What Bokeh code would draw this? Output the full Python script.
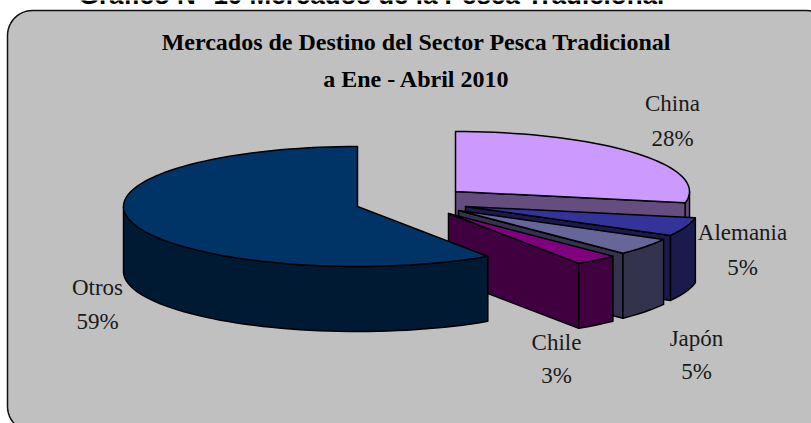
import math
from bokeh.plotting import figure
from bokeh.models import ColumnDataSource, Range1d
from bokeh.core.properties import value
from bokeh.embed import file_html
from bokeh.resources import INLINE

# ---- data
heading = "Gráfico N° 10 Mercados de la Pesca Tradicional"
title_lines = ["Mercados de Destino del Sector Pesca Tradicional", "a Ene - Abril 2010"]
categories = ["China", "Alemania", "Japón", "Chile", "Otros"]
shares = [28.0, 5.0, 4.6, 3.0, 59.4]

# ---- styling / layout (pixel space of the 811x423 page)
top_colors = ["#CC99FF", "#333399", "#666699", "#800080", "#003366"]
side_colors = ["#664D80", "#1A1A4D", "#33334D", "#400040", "#001A33"]
apex_x = [455, 465, 458, 448, 357]
apex_y = [191, 206, 210, 213, 206]
label_x = [672, 742, 696, 556, 97]
label_y = [103, 232, 338, 342, 287]
pct_y = [138, 267, 371, 375, 321]
RX, RY, DEPTH = 234, 60, 65
BG = "#C0C0C0"

W, H = 811, 423
p = figure(width=W, height=H, x_range=Range1d(0, W), y_range=Range1d(H, 0),
           output_backend="svg", toolbar_location=None, min_border=0,
           background_fill_color="white",
           border_fill_color="white", outline_line_color=None)
p.axis.visible = False
p.grid.visible = False

# panel with rounded corners
L, T, R, B, r = 7, 10, 831, 431, 25
px, py = [], []
for cx, cy, a0 in [(L + r, T + r, 180), (R - r, T + r, 270), (R - r, B - r, 0), (L + r, B - r, 90)]:
    for k in range(13):
        a = math.radians(a0 + 90 * k / 12)
        px.append(cx + r * math.cos(a))
        py.append(cy + r * math.sin(a))
p.patch(px, py, fill_color=BG, line_color="#111111", line_width=1.5)


def rim(ax, ay, t):
    return ax + RX * math.sin(t), ay - RY * math.cos(t)


def add(xs, ys, color):
    p.patch(xs, ys, fill_color=color, line_color="black", line_width=1.5, line_join="round")


start = 0.0
for i, s in enumerate(shares):
    end = start + s / sum(shares) * 2 * math.pi
    ax, ay = apex_x[i], apex_y[i]
    n = max(4, int(s * 1.5))
    ts = [start + (end - start) * k / n for k in range(n + 1)]
    edge = [rim(ax, ay, t) for t in ts]

    # visible cut face of the wedge (the clockwise end), only on the right half
    if end < math.pi:
        ex, ey = edge[-1]
        add([ax, ex, ex, ax], [ay, ey, ey + DEPTH, ay + DEPTH], side_colors[i])
    # outer wall where the rim faces the viewer
    front = [t for t in ts if math.pi / 2 <= t <= 3 * math.pi / 2]
    wall = ([math.pi / 2] if start < math.pi / 2 < end else []) + front
    if end > 3 * math.pi / 2:
        wall = wall + [3 * math.pi / 2]
    if len(wall) > 1:
        rp = [rim(ax, ay, t) for t in wall]
        add([q[0] for q in rp] + [q[0] for q in reversed(rp)],
            [q[1] for q in rp] + [q[1] + DEPTH for q in reversed(rp)], side_colors[i])
    # top face
    add([ax] + [q[0] for q in edge], [ay] + [q[1] for q in edge], top_colors[i])
    start = end

# labels
labels = ColumnDataSource(dict(x=label_x, y=label_y, t=categories))
p.text("x", "y", text="t", source=labels, text_font=value("Liberation Serif"),
       text_font_size="23px", text_color="#1a1a1a", text_align="center", text_baseline="middle")
pct = ColumnDataSource(dict(x=label_x, y=pct_y, t=[f"{round(v)}%" for v in shares]))
p.text("x", "y", text="t", source=pct, text_font=value("Liberation Serif"),
       text_font_size="23px", text_color="#1a1a1a", text_align="center", text_baseline="middle")

# titles
p.text([416, 416], [41, 78], text=title_lines, text_font=value("Liberation Serif"),
       text_font_style="bold", text_font_size="24px", text_color="black",
       text_align="center", text_baseline="middle")
p.text([371], [-6], text=[heading], text_font=value("Liberation Sans"),
       text_font_style="bold", text_font_size="26px", text_color="black",
       text_align="center", text_baseline="alphabetic")

open("out.html", "w").write(file_html(p, INLINE))
